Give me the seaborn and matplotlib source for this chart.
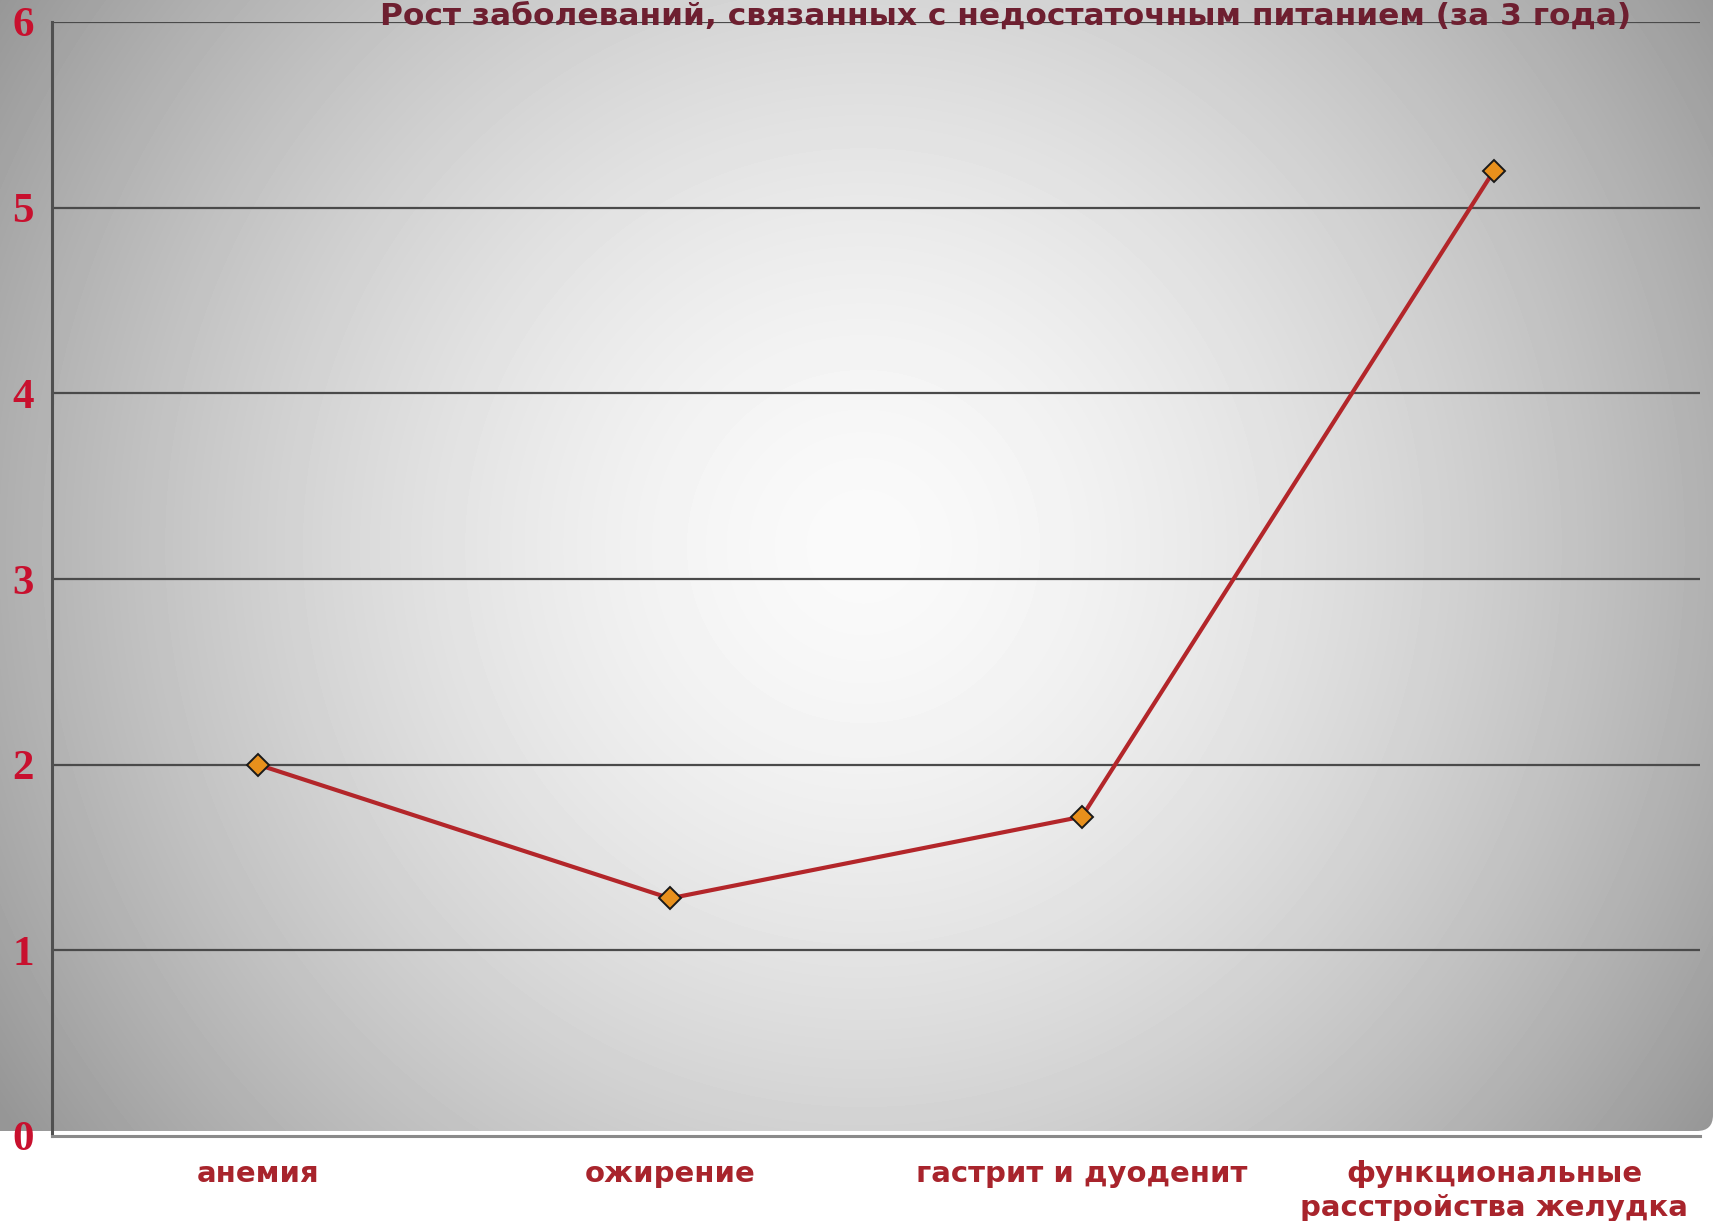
import numpy as np
import pandas as pd
import seaborn as sns
import matplotlib.pyplot as plt
from matplotlib.patches import FancyBboxPatch

# Chart data
categories = [
    "анемия",
    "ожирение",
    "гастрит и дуоденит",
    "функциональные\nрасстройства желудка",
]
growth = [2.0, 1.28, 1.72, 5.2]
y_ticks = [0, 1, 2, 3, 4, 5, 6]
title = "Рост заболеваний, связанных с недостаточным питанием (за 3 года)"

sns.set_style("white")
plt.rcParams["font.family"] = ["DejaVu Sans"]

W, H = 1713, 1221
fig = plt.figure(figsize=(W / 100, H / 100), dpi=100)
fig.patch.set_facecolor("white")

# Radial grey background (slide style), ends just above the x labels
bg_bottom = 1131
bg = fig.add_axes([0, (H - bg_bottom) / H, 1, bg_bottom / H])
yy, xx = np.mgrid[0:bg_bottom, 0:W]
r = np.hypot(xx - 863, yy - 546)
shade = 250 - 88 * (r / 950) ** 1.6
shade = np.clip(shade, 150, 255) / 255.0
img = bg.imshow(shade, cmap="gray", vmin=0, vmax=1, aspect="auto",
                interpolation="bilinear", extent=(0, W, bg_bottom, 0))
# only the bottom-right corner is rounded
clip = FancyBboxPatch((-40, -40), W + 40, bg_bottom + 40,
                      boxstyle="round,pad=0,rounding_size=16",
                      transform=bg.transData, facecolor="none",
                      edgecolor="none")
bg.add_patch(clip)
img.set_clip_path(clip)
bg.set_xlim(0, W)
bg.set_ylim(bg_bottom, 0)
bg.set_axis_off()

# Main plot area
left, right, top, bottom = 52, 1700, 22, 1136
ax = fig.add_axes([left / W, (H - bottom) / H,
                   (right - left) / W, (bottom - top) / H])
ax.set_facecolor("none")

df = pd.DataFrame({"category": categories, "growth": growth})

sns.lineplot(
    data=df,
    x="category",
    y="growth",
    ax=ax,
    color="#b3262a",
    linewidth=3.0,
    marker="D",
    markersize=11,
    markerfacecolor="#e8901c",
    markeredgecolor="#1a1a1a",
    markeredgewidth=1.4,
    sort=False,
    zorder=5,
)

ax.set_xlim(-0.5, len(categories) - 0.5)
ax.set_ylim(0, 6)

# Horizontal grid lines
for y in y_ticks[1:]:
    ax.axhline(y, color="#4a4a4a", linewidth=1.6, zorder=1)

# Y axis
ax.set_yticks(y_ticks)
ax.set_yticklabels([str(v) for v in y_ticks], family="Liberation Serif",
                   fontweight="bold", fontsize=31, color="#c8102e")
ax.tick_params(axis="y", length=8, width=1.5, color="#4a4a4a", pad=5)

# X axis: tick marks at band boundaries, labels at band centres
ax.set_xticks(np.arange(len(categories) + 1) - 0.5)
ax.set_xticklabels([])
ax.set_xticks(np.arange(len(categories)), minor=True)
ax.set_xticklabels(categories, minor=True, fontweight="bold", fontsize=21,
                   color="#a8242c", linespacing=1.3)
ax.tick_params(axis="x", which="major", length=9, width=1.5,
               color="#707070", direction="out")
ax.tick_params(axis="x", which="minor", length=0, pad=17)

ax.set_xlabel("")
ax.set_ylabel("")

for side in ["top", "right"]:
    ax.spines[side].set_visible(False)
ax.spines["left"].set_color("#505050")
ax.spines["left"].set_linewidth(2.2)
ax.spines["bottom"].set_color("#8a8a8a")
ax.spines["bottom"].set_linewidth(2.2)

# Title, sitting on the top grid line
fig.text(0.587, 1 - 25 / H, title, ha="center", va="baseline",
         fontsize=22.5, fontweight="bold", color="#6e1f30")

fig.savefig("out.png", dpi=100)
